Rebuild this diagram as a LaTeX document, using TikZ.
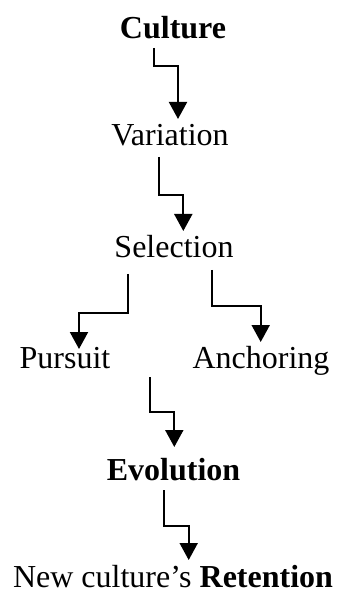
\documentclass[tikz,border=0pt]{standalone}
\usepackage{fontspec}
\setmainfont{Liberation Serif}
\usetikzlibrary{arrows.meta,positioning,calc}

\begin{document}
\begin{tikzpicture}[
  x=0.5pt, y=-0.5pt,
  every node/.style={font=\fontsize{16}{18}\selectfont, inner sep=0pt, anchor=base},
  link/.style={-{Triangle[width=9pt,length=8.5pt]}, line width=1pt, draw=black}
]
  \useasboundingbox (0,0) rectangle (336,592);

  % stages of the cycle
  \node (cul) at (173,39) {\textbf{Culture}};
  \node (var) at (170,146) {Variation};
  \node (sel) at (174,258) {Selection};
  \node (pur) at (65,368) {Pursuit};
  \node (anc) at (261,368) {Anchoring};
  \node (evo) at (173.5,480) {\textbf{Evolution}};
  \node (ret) at (173,587) {New culture’s \textbf{Retention}};
  \coordinate (mrg) at (150,377);

  % elbow connectors: down, across, down
  \draw[link] ($(cul.base)+(-19.5,9)$) -- ++(0,18) -| ($(var.base)+(8,-27)$);
  \draw[link] ($(var.base)+(-10.7,11)$) -- ++(0,38.5) -| ($(sel.base)+(9.3,-27)$);
  \draw[link] ($(sel.base)+(-46.3,16)$) -- ++(0,39) -| ($(pur.base)+(14,-19)$);
  \draw[link] ($(sel.base)+(38.3,12)$) -- ++(0,35.5) -| ($(anc.base)+(-0.3,-26)$);
  \draw[link] (mrg) -- ++(0,35) -| ($(evo.base)+(0.8,-33)$);
  \draw[link] ($(evo.base)+(-9.5,10)$) -- ++(0,36) -| ($(ret.base)+(15.7,-27)$);
\end{tikzpicture}
\end{document}
